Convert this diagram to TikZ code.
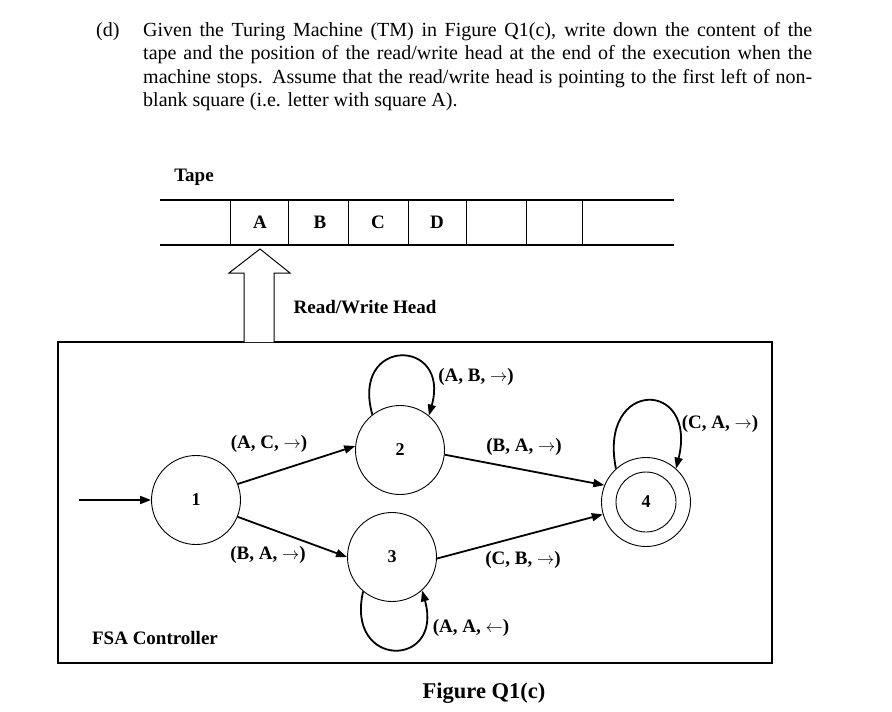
\documentclass[tikz,border=0pt]{standalone}
\usepackage{fontspec}
\setmainfont{Liberation Serif}
\usetikzlibrary{arrows.meta,positioning}

\begin{document}
\begin{tikzpicture}[x=1pt, y=-1pt, >={Triangle[length=11pt,width=8pt]}]
  \tikzstyle{state}=[draw, circle, minimum size=89pt, inner sep=0pt, line width=0.9pt, font=\bfseries\fontsize{18}{20}\selectfont]
  \tikzstyle{lbl}=[inner sep=0pt, font=\bfseries\fontsize{19}{22}\selectfont]
  \tikzstyle{edge}=[->, line width=1.8pt]
  \useasboundingbox (0,0) rectangle (892,712);
  % question text
  \node[anchor=north west, inner sep=0pt, text width=669pt, align=justify,
        font=\fontsize{20}{23.5}\selectfont] (question) at (143,22)
    {\hyphenpenalty=10000\noindent\llap{\makebox[47pt][l]{(d)}}Given the Turing Machine (TM) in Figure Q1(c), write down the content of the\linebreak
     tape and the position of the read/write head at the end of the execution when the\linebreak
     machine stops. Assume that the read/write head is pointing to the first left of non-\linebreak
     blank square (i.e. letter with square A).};
  % tape
  \node[lbl] (tape) at (194,177) {Tape};
  \draw[line width=1.2pt] (160,200) -- (674,200);
  \draw[line width=1.2pt] (160,245) -- (674,245);
  \foreach \x in {230,288,348,408,466,526,582}
    \draw[line width=1pt] (\x,200) -- (\x,245);
  \node[lbl] (cellA) at (260,222) {A};
  \node[lbl] (cellB) at (320,222) {B};
  \node[lbl] (cellC) at (378,222) {C};
  \node[lbl] (cellD) at (437,222) {D};
  % controller box and head
  \draw[line width=1.8pt] (58,342) rectangle (772,663);
  \draw[line width=1pt, fill=white] (244,342) -- (244,273) -- (229,273) -- (260,249)
    -- (290,273) -- (274,273) -- (274,342);
  \node[lbl] (head) at (365,307) {Read/Write Head};
  \node[lbl] (fsa) at (155,638) {FSA Controller};
  % states
  \node[state] (s1) at (196,500) {1};
  \node[state] (s2) at (400,450) {2};
  \node[state] (s3) at (392,557) {3};
  \node[state] (s4) at (646,502) {4};
  \node[draw, circle, minimum size=60pt, line width=0.9pt] (s4in) at (s4) {};
  \coordinate (start) at (79,500);
  % transitions
  \draw[edge] (start) -- (s1);
  \draw[edge] (s1.21) -- (s2.175);
  \draw[edge] (s1.-22) -- (s3.west);
  \draw[edge] (s2.-6) -- (s4.158);
  \draw[edge] (s3.-2) -- (s4.-164);
  \draw[edge] (s2.128) .. controls +(-22,-78) and +(22,-78) .. (s2.50);
  \draw[edge] (s3.-130) .. controls +(-18,78) and +(22,78) .. (s3.-48);
  \draw[edge] (s4.132) .. controls +(-18,-90) and +(22,-90) .. (s4.48);
  % labels
  \node[lbl] (t12) at (269,444) {(A, C, $\rightarrow$)};
  \node[lbl] (t13) at (268,555) {(B, A, $\rightarrow$)};
  \node[lbl] (t22) at (476,377) {(A, B, $\rightarrow$)};
  \node[lbl] (t24) at (524,447) {(B, A, $\rightarrow$)};
  \node[lbl] (t34) at (523,560) {(C, B, $\rightarrow$)};
  \node[lbl] (t33) at (471,628) {(A, A, $\leftarrow$)};
  \node[lbl] (t44) at (720,424) {(C, A, $\rightarrow$)};
  \node[inner sep=0pt, font=\bfseries\fontsize{22.5}{26}\selectfont] (caption) at (484,693) {Figure Q1(c)};
\end{tikzpicture}
\end{document}
